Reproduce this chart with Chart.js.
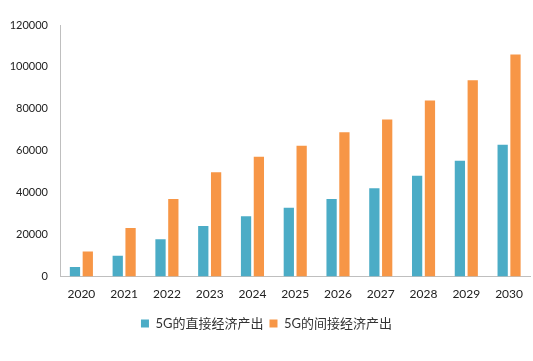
<!DOCTYPE html>
<html>
<head>
<meta charset="utf-8">
<script src="https://cdn.jsdelivr.net/npm/chart.js@4/dist/chart.umd.min.js"></script>
<style>
  html, body { margin: 0; padding: 0; background: #fff; }
  #wrap { width: 533px; height: 361px; }
</style>
</head>
<body>
<div id="wrap"><canvas id="c"></canvas></div>
<script>
const years = ["2020", "2021", "2022", "2023", "2024", "2025", "2026", "2027", "2028", "2029", "2030"];
const direct = [4600, 10000, 17800, 24100, 28800, 32800, 37000, 42100, 48100, 55200, 62900];
const indirect = [12000, 23200, 37000, 49800, 57200, 62400, 68800, 74900, 84000, 93600, 105900];
const directLabel = "5G的直接经济产出";
const indirectLabel = "5G的间接经济产出";

const font = "Lato, 'Noto Sans CJK SC', sans-serif";

new Chart(document.getElementById("c"), {
  type: "bar",
  data: {
    labels: years,
    datasets: [
      { label: directLabel, data: direct, backgroundColor: "#4bacc6" },
      { label: indirectLabel, data: indirect, backgroundColor: "#f79646" },
    ],
  },
  options: {
    responsive: true,
    maintainAspectRatio: false,
    animation: false,
    layout: { padding: { top: 25, right: 0, left: 0, bottom: 21 } },
    datasets: { bar: { categoryPercentage: 0.6, barPercentage: 0.8 } },
    plugins: {
      legend: {
        position: "bottom",
        labels: { boxWidth: 8, boxHeight: 8, color: "#333", font: { family: font, size: 13 }, padding: 6 },
      },
      tooltip: { enabled: false },
    },
    scales: {
      x: {
        grid: { display: false, drawTicks: false },
        border: { color: "#bfbfbf" },
        ticks: { color: "#222", font: { family: font, size: 12 }, padding: 10 },
      },
      y: {
        min: 0,
        max: 120000,
        grid: { display: false, drawTicks: false },
        border: { color: "#bfbfbf" },
        ticks: { stepSize: 20000, color: "#222", font: { family: font, size: 11 }, padding: 12, callback: (v) => String(v) },
        afterFit: (s) => { s.width = 60; },
      },
    },
  },
});
</script>
</body>
</html>
